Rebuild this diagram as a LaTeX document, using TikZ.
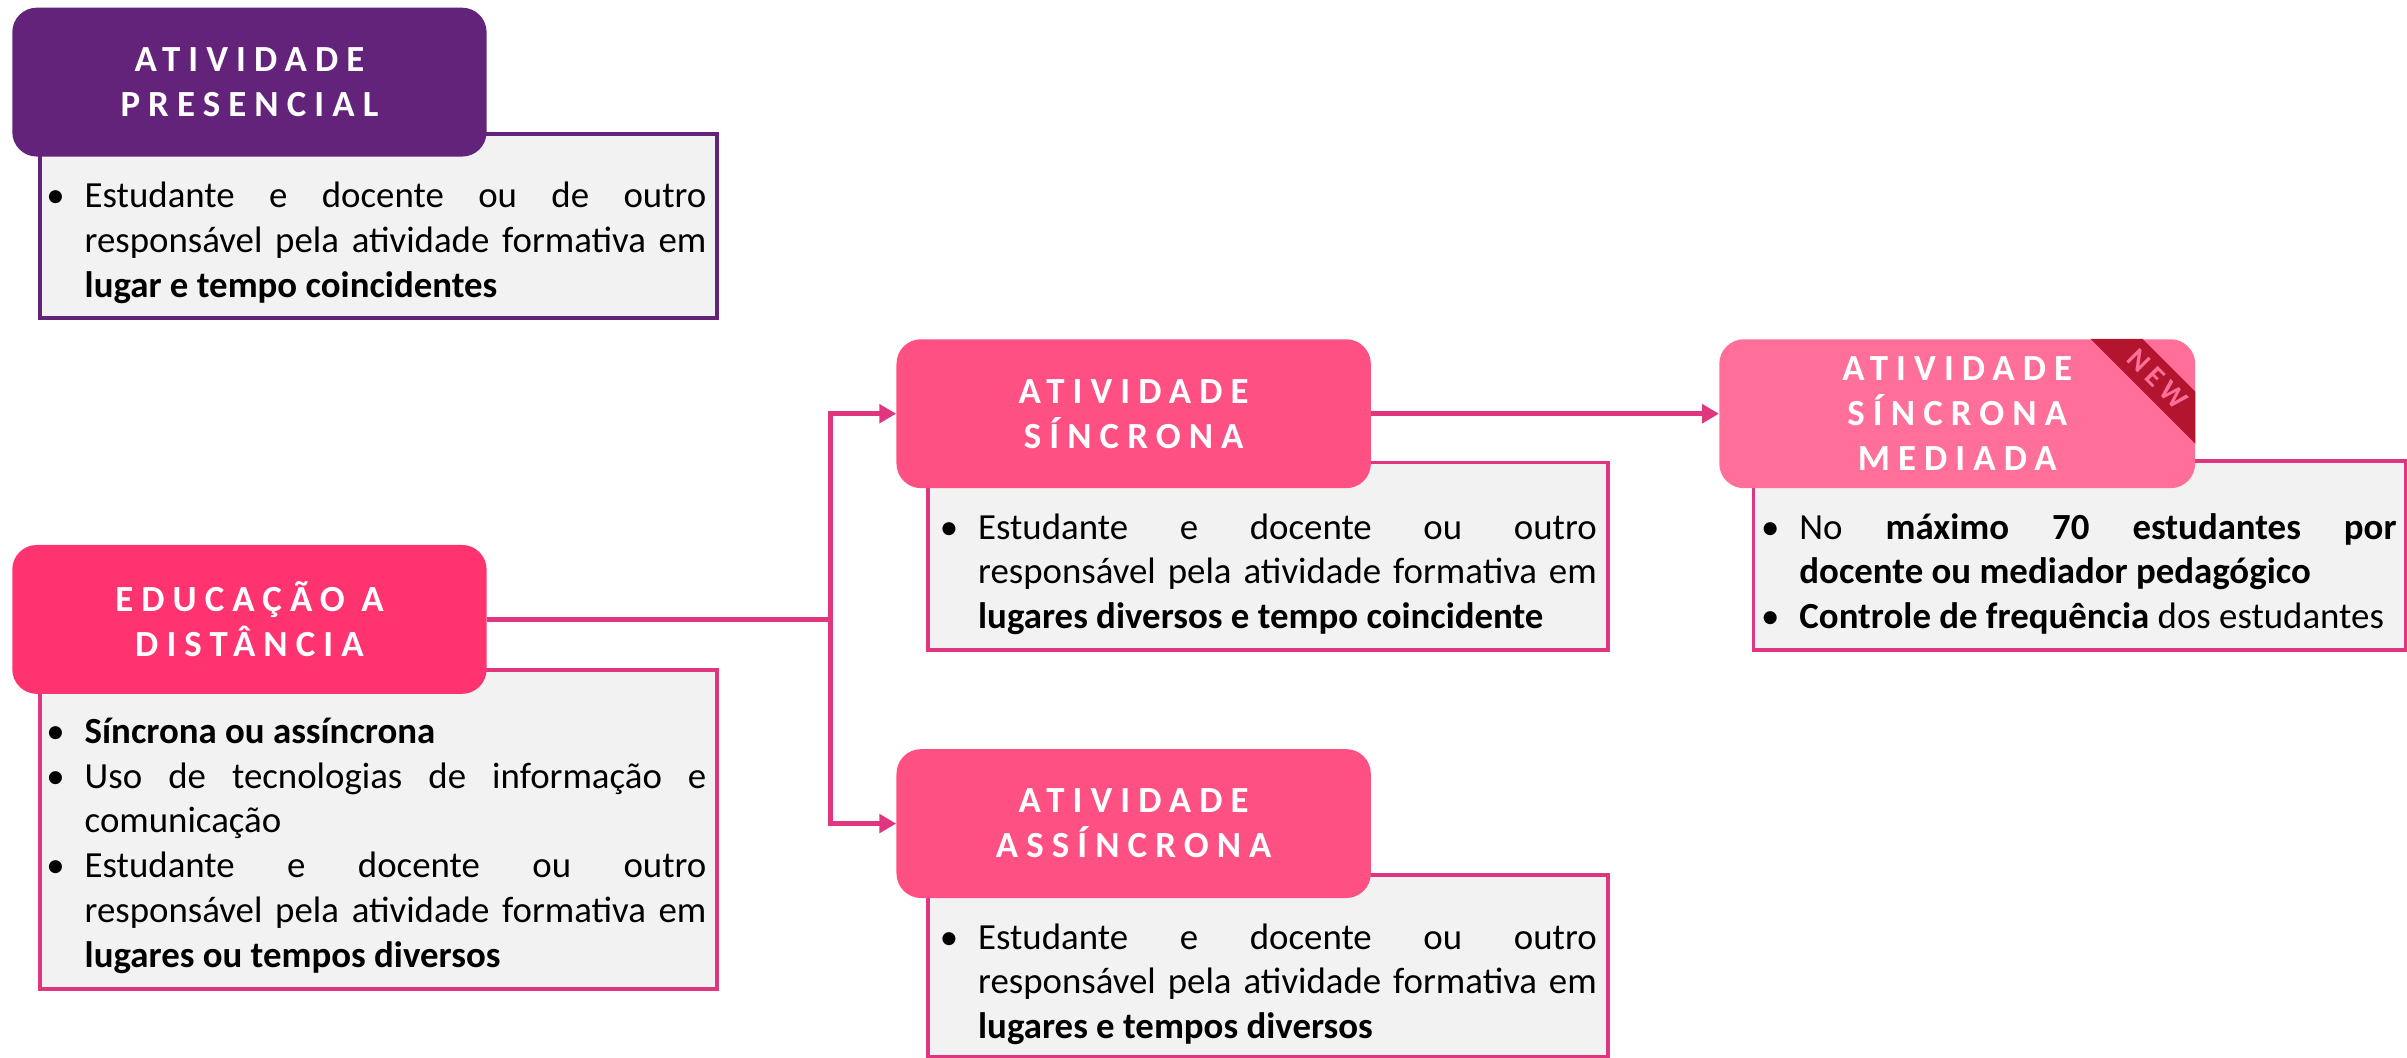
\documentclass[tikz,border=0pt]{standalone}
\usepackage{fontspec}
\setmainfont{Carlito}
\newfontfamily\hfont[LetterSpace=22]{Carlito}
\newfontfamily\ribbonfont[LetterSpace=22]{Carlito}
\usetikzlibrary{arrows.meta}
\definecolor{purp}{HTML}{64237A}
\definecolor{eadpink}{HTML}{FF3370}
\definecolor{sincpink}{HTML}{FF5083}
\definecolor{medpink}{HTML}{FF6F99}
\definecolor{linepink}{HTML}{E0357F}
\definecolor{boxgray}{HTML}{F2F2F2}
\definecolor{ribbonred}{HTML}{B4152E}
\newcommand\bitem[1]{\par\parskip=0pt\hangindent=22pt\hangafter=1\noindent\makebox[22pt][l]{\hspace{-3pt}\textbullet}#1\par}
\tikzset{
  hdr/.style={rounded corners=16pt, minimum width=309pt, minimum height=97pt, inner sep=0pt,
    text=white, align=center, font=\hfont\bfseries\fontsize{24}{29.3}\selectfont},
  bodybox/.style={draw, line width=2.5pt, fill=boxgray, inner sep=0pt, anchor=north west},
  txt/.style={anchor=base west, inner sep=0pt, align=justify, font=\fontsize{24}{29.2}\selectfont},
  conn/.style={draw=linepink, line width=3.3pt, -{Triangle[length=11pt,width=12pt]}}
}
\begin{document}
\begin{tikzpicture}[x=1pt,y=-1pt]
\useasboundingbox (0,0) rectangle (1568,688.6);
% body boxes
\node[bodybox, draw=purp, minimum width=441pt, minimum height=120pt] (presB) at (25,86) {};
\node[bodybox, draw=linepink, minimum width=441pt, minimum height=208pt] (eadB) at (25,435) {};
\node[bodybox, draw=linepink, minimum width=443pt, minimum height=122pt] (sincB) at (603,300) {};
\node[bodybox, draw=linepink, minimum width=443pt, minimum height=118pt] (assB) at (603,569) {};
\node[bodybox, draw=linepink, minimum width=425pt, minimum height=123pt] (medB) at (1141,299) {};
% headers
\node[hdr, fill=purp] (presH) at (162.5,53.5) {ATIVIDADE\\PRESENCIAL};
\node[hdr, fill=eadpink] (eadH) at (162.5,403.5) {EDUCAÇÃO A\\DISTÂNCIA};
\node[hdr, fill=sincpink] (sincH) at (738.5,269.5) {ATIVIDADE\\SÍNCRONA};
\node[hdr, fill=sincpink] (assH) at (738.5,536.5) {ATIVIDADE\\ASSÍNCRONA};
\node[hdr, fill=medpink, minimum width=310pt] (medH) at (1275,269.5) {ATIVIDADE\\SÍNCRONA\\MEDIADA};
% NEW ribbon
\begin{scope}
  \clip[rounded corners=16pt] (medH.south west) rectangle (medH.north east);
  \fill[ribbonred] (1386,211) -- (1440,265) -- (1440,299) -- (1352,211) -- cycle;
\end{scope}
\node[rotate=-45, text=medpink, inner sep=0pt, font=\ribbonfont\bfseries\fontsize{19}{19}\selectfont] (newL) at (1405.5,247) {NEW};
% connectors
\coordinate (jx) at (541,0);
\draw[conn] (eadH.east) -- (eadH.east -| jx) |- (sincH.west);
\draw[conn] (eadH.east -| jx) |- (assH.west);
\draw[conn] (sincH.east) -- (medH.west);
% texts
\node[txt, text width=427pt] (presT) at (33,106) {\bitem{Estudante e docente ou de outro\linebreak responsável pela atividade formativa em\linebreak \textbf{lugar e tempo coincidentes}}};
\node[txt, text width=427pt] (eadT) at (33,455) {\bitem{\textbf{Síncrona ou assíncrona}}\bitem{Uso de tecnologias de informação e\linebreak comunicação}\bitem{Estudante e docente ou outro\linebreak responsável pela atividade formativa em\linebreak \textbf{lugares ou tempos diversos}}};
\node[txt, text width=425pt] (sincT) at (615,322) {\bitem{Estudante e docente ou outro\linebreak responsável pela atividade formativa em\linebreak \textbf{lugares diversos e tempo coincidente}}};
\node[txt, text width=425pt] (assT) at (615,589) {\bitem{Estudante e docente ou outro\linebreak responsável pela atividade formativa em\linebreak \textbf{lugares e tempos diversos}}};
\node[txt, text width=411pt] (medT) at (1150,322) {\bitem{No \textbf{máximo 70 estudantes por}\linebreak \textbf{docente ou mediador pedagógico}}\bitem{\textbf{Controle de frequência} dos estudantes}};
\end{tikzpicture}
\end{document}
